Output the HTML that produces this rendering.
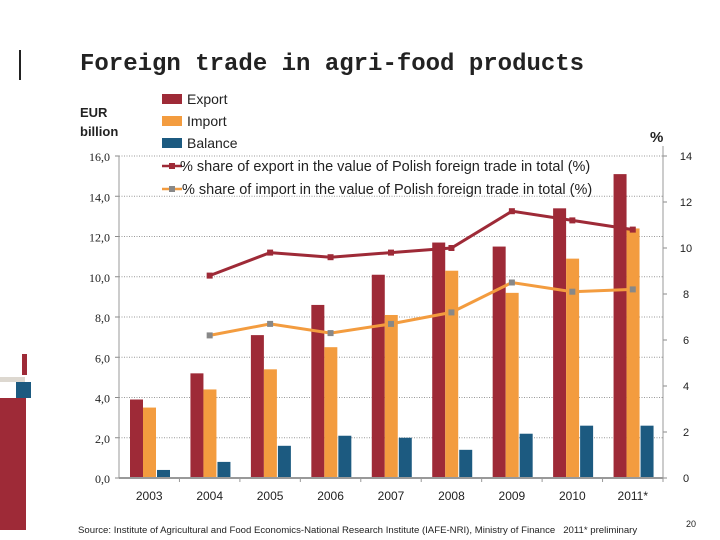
<!DOCTYPE html>
<html><head><meta charset="utf-8"><style>
body{margin:0;background:#fff;width:720px;height:540px;overflow:hidden;font-family:"Liberation Sans",sans-serif}
svg{display:block}
</style></head><body>
<svg width="720" height="540" xmlns="http://www.w3.org/2000/svg">
<g>
<rect x="19" y="50" width="2" height="30" fill="#222"/>
<rect x="0" y="377" width="25" height="5" fill="#ddd8d0"/>
<rect x="22" y="354" width="5" height="21" fill="#9e2a37"/>
<rect x="16" y="382" width="15" height="16" fill="#1c5a80"/>
<rect x="0" y="398" width="26" height="132" fill="#9e2a37"/>
</g>
<text x="80" y="70" font-family="Liberation Mono,monospace" font-size="24" font-weight="bold" fill="#222">Foreign trade in agri-food products</text>
<text x="80" y="117" font-size="13" font-weight="bold" fill="#222"><tspan x="80">EUR</tspan><tspan x="80" dy="19">billion</tspan></text>
<text x="650" y="142" font-size="15" font-weight="bold" fill="#222">%</text>
<g id="grid"></g><g id="bars"></g><g id="lines"></g><g id="axes"></g>
<g font-size="14" fill="#222">
<rect x="162" y="94" width="20" height="10" fill="#9e2a37"/><text x="187" y="104">Export</text>
<rect x="162" y="116" width="20" height="10" fill="#f39c3f"/><text x="187" y="126">Import</text>
<rect x="162" y="138" width="20" height="10" fill="#1c5a80"/><text x="187" y="148">Balance</text>
<line x1="162" y1="166" x2="182" y2="166" stroke="#9e2a37" stroke-width="2.5"/><rect x="169" y="163" width="6" height="6" fill="#9e2a37"/>
<text x="180" y="171" font-size="14.5">% share of export in the value of Polish foreign trade in total (%)</text>
<line x1="162" y1="189" x2="182" y2="189" stroke="#f39c3f" stroke-width="2.5"/><rect x="169" y="186" width="6" height="6" fill="#888"/>
<text x="182" y="194" font-size="14.5">% share of import in the value of Polish foreign trade in total (%)</text>
</g>
<text x="78" y="533" font-size="9.6" fill="#222">Source: Institute of Agricultural and Food Economics-National Research Institute (IAFE-NRI), Ministry of Finance &#160;&#160;2011* preliminary</text>
<text x="686" y="527" font-size="9" fill="#222">20</text>
</svg>
<script>
const years=["2003","2004","2005","2006","2007","2008","2009","2010","2011*"];
const exportVals=[3.9,5.2,7.1,8.6,10.1,11.7,11.5,13.4,15.1];
const importVals=[3.5,4.4,5.4,6.5,8.1,10.3,9.2,10.9,12.4];
const balanceVals=[0.4,0.8,1.6,2.1,2.0,1.4,2.2,2.6,2.6];
const exportShare=[null,8.8,9.8,9.6,9.8,10.0,11.6,11.2,10.8];
const importShare=[null,6.2,6.7,6.3,6.7,7.2,8.5,8.1,8.2];
const leftTicks=[0,2,4,6,8,10,12,14,16];
const rightTicks=[0,2,4,6,8,10,12,14];
const NS="http://www.w3.org/2000/svg";
const X0=119,X1=663,Y0=478;
const gw=(X1-X0)/years.length;
const yL=v=>Y0-v*(Y0-156)/16;
const yR=v=>Y0-v*(Y0-156)/14;
const xC=i=>X0+gw*(i+0.5);
function mk(tag,attrs,parent){const e=document.createElementNS(NS,tag);for(const k in attrs)e.setAttribute(k,attrs[k]);document.getElementById(parent).appendChild(e);return e;}
leftTicks.forEach(t=>{
 if(t>0){const g=mk('line',{x1:X0,x2:X1,y1:yL(t),y2:yL(t),stroke:'#999','stroke-dasharray':'1,1.5'},'grid');
 
 }
 const l=mk('text',{x:110,y:yL(t)+5,'text-anchor':'end','font-size':'12','font-family':'Liberation Serif,serif',fill:'#222'},'axes');
 l.textContent=t.toFixed(1).replace('.',',');
 
 
 mk('line',{x1:X0-4,x2:X0,y1:yL(t),y2:yL(t),stroke:'#888'},'axes');
});
rightTicks.forEach(t=>{
 const l=mk('text',{x:686,y:yR(t)+4,'text-anchor':'middle','font-size':'11',fill:'#222'},'axes');
 l.textContent=t;
 
 
 mk('line',{x1:X1,x2:X1+4,y1:yR(t),y2:yR(t),stroke:'#888'},'axes');
});
mk('line',{x1:X0,x2:X0,y1:156,y2:Y0,stroke:'#999'},'axes');
mk('line',{x1:X1,x2:X1,y1:146,y2:Y0,stroke:'#999'},'axes');
mk('line',{x1:X0,x2:X1,y1:Y0,y2:Y0,stroke:'#999','stroke-width':2},'axes');
years.forEach((y,i)=>{
 mk('line',{x1:X0+gw*(i+1),x2:X0+gw*(i+1),y1:Y0,y2:Y0+4,stroke:'#999'},'axes');
 const l=mk('text',{x:xC(i),y:Y0+22,'text-anchor':'middle','font-size':'12',fill:'#222'},'axes');
 l.textContent=y;
 
 
 const gx=X0+gw*i;
 [[exportVals,11,'#9e2a37','bar-export'],[importVals,24,'#f39c3f','bar-import'],[balanceVals,38,'#1c5a80','bar-balance']].forEach(s=>{
  const v=s[0][i];
  const b=mk('rect',{x:gx+s[1],y:yL(v),width:13,height:Y0-yL(v),fill:s[2]},'bars');
  
  
 });
});
function line(vals,color,mcolor,name){
 const pts=[];vals.forEach((v,i)=>{if(v!=null)pts.push([xC(i),yR(v)]);});
 const p=mk('polyline',{points:pts.map(p=>p.join(',')).join(' '),fill:'none',stroke:color,'stroke-width':3},'lines');
 
 
 pts.forEach(q=>{const m=mk('rect',{x:q[0]-3,y:q[1]-3,width:6,height:6,fill:mcolor},'lines');
 
 });
}
line(exportShare,'#9e2a37','#9e2a37','export-share-line');
line(importShare,'#f39c3f','#888','import-share-line');
</script>
</body></html>
